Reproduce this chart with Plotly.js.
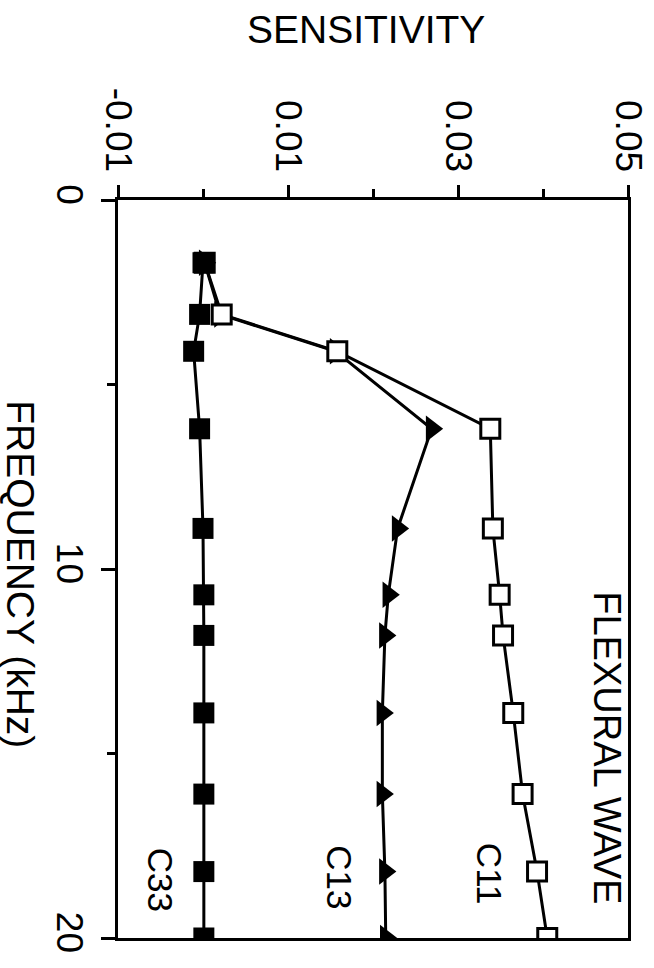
<!DOCTYPE html>
<html>
<head>
<meta charset="utf-8">
<script src="https://cdn.plot.ly/plotly-3.0.1.min.js"></script>
<style>
  html, body { margin: 0; padding: 0; background: #ffffff; }
  #chart { width: 654px; height: 968px; }
</style>
</head>
<body>
<div id="chart"></div>
<script>
// Frequency (kHz) of each measurement
const frequency = [1.7, 3.1, 4.1, 6.2, 8.9, 10.7, 11.8, 13.9, 16.1, 18.2, 20.0];
// Sensitivity series
const c11 = [0.0002, 0.0022, 0.0158, 0.0338, 0.0341, 0.0349, 0.0353, 0.0365, 0.0376, 0.0393, 0.0405];
const c13 = [0.0002, 0.0020, 0.0156, 0.0269, 0.0229, 0.0218, 0.0214, 0.0211, 0.0211, 0.0214, 0.0215];
const c33 = [0.0000, -0.0004, -0.0011, -0.0004, 0.0000, 0.0001, 0.0001, 0.0001, 0.0001, 0.0001, 0.0001];

const sensTicks = [-0.01, 0.01, 0.03, 0.05];
const sensTickText = ['-0.01', '0.01', '0.03', '0.05'];
const sensMinor = [0.0, 0.02, 0.04];
const freqTicks = [0, 10, 20];
const freqTickText = ['0', '10', '20'];
const freqMinor = [5, 15];

const FONT = 'Liberation Sans, Arial, Helvetica, sans-serif';

const lineStyle = { color: '#000', width: 3 };

const traces = [
  {
    name: 'C13', x: c13, y: frequency, type: 'scatter', mode: 'lines+markers',
    line: lineStyle,
    marker: { symbol: 'triangle-right', size: 23, color: '#000' }
  },
  {
    name: 'C11', x: c11, y: frequency, type: 'scatter', mode: 'lines+markers',
    line: lineStyle,
    marker: { symbol: 'square', size: 19, color: '#fff', line: { color: '#000', width: 3 } }
  },
  {
    name: 'C33', x: c33, y: frequency, type: 'scatter', mode: 'lines+markers',
    line: lineStyle,
    marker: { symbol: 'square', size: 21, color: '#000' }
  }
];

const layout = {
  width: 654, height: 968,
  paper_bgcolor: '#fff', plot_bgcolor: '#fff',
  showlegend: false,
  margin: { l: 118, r: 26, t: 200, b: 30 },
  font: { family: FONT, size: 36, color: '#000' },
  xaxis: {
    side: 'top',
    range: [-0.01, 0.05], autorange: false,
    tickmode: 'array', tickvals: sensTicks, ticktext: sensTickText,
    tickangle: 90,
    ticks: 'outside', ticklen: 12, tickwidth: 3, tickcolor: '#000',
    minor: { tickmode: 'array', tickvals: sensMinor, ticks: 'outside', ticklen: 8, tickwidth: 3, tickcolor: '#000', showgrid: false },
    showline: true, linewidth: 3, linecolor: '#000', mirror: true,
    showgrid: false, zeroline: false,
    tickfont: { family: FONT, size: 37, color: '#000' }
  },
  yaxis: {
    range: [20, 0], autorange: false,
    tickmode: 'array', tickvals: freqTicks, ticktext: freqTickText,
    tickangle: 90,
    ticks: 'outside', ticklen: 14, tickwidth: 3, tickcolor: '#000',
    minor: { tickmode: 'array', tickvals: freqMinor, ticks: 'outside', ticklen: 8, tickwidth: 3, tickcolor: '#000', showgrid: false },
    showline: true, linewidth: 3, linecolor: '#000', mirror: true,
    showgrid: false, zeroline: false,
    tickfont: { family: FONT, size: 37, color: '#000' }
  },
  annotations: [
    { text: 'SENSITIVITY', xref: 'paper', yref: 'paper', x: 0.486, y: 1 + (200 - 30) / 738,
      xanchor: 'center', yanchor: 'middle', showarrow: false,
      font: { family: FONT, size: 39, color: '#000' } },
    { text: 'FREQUENCY (kHz)', xref: 'paper', yref: 'paper', x: (21 - 118) / 510, y: 0.493,
      xanchor: 'center', yanchor: 'middle', showarrow: false, textangle: 90,
      font: { family: FONT, size: 39, color: '#000' } },
    { text: 'FLEXURAL WAVE', xref: 'x', yref: 'y', x: 0.0475, y: 14.85,
      xanchor: 'center', yanchor: 'middle', showarrow: false, textangle: 90,
      font: { family: FONT, size: 38, color: '#000' } },
    { text: 'C11', xref: 'x', yref: 'y', x: 0.0338, y: 18.27,
      xanchor: 'center', yanchor: 'middle', showarrow: false, textangle: 90,
      font: { family: FONT, size: 35, color: '#000' } },
    { text: 'C13', xref: 'x', yref: 'y', x: 0.0161, y: 18.35,
      xanchor: 'center', yanchor: 'middle', showarrow: false, textangle: 90,
      font: { family: FONT, size: 35, color: '#000' } },
    { text: 'C33', xref: 'x', yref: 'y', x: -0.0049, y: 18.43,
      xanchor: 'center', yanchor: 'middle', showarrow: false, textangle: 90,
      font: { family: FONT, size: 35, color: '#000' } }
  ]
};

Plotly.newPlot('chart', traces, layout, { staticPlot: true, displayModeBar: false });
</script>
</body>
</html>
